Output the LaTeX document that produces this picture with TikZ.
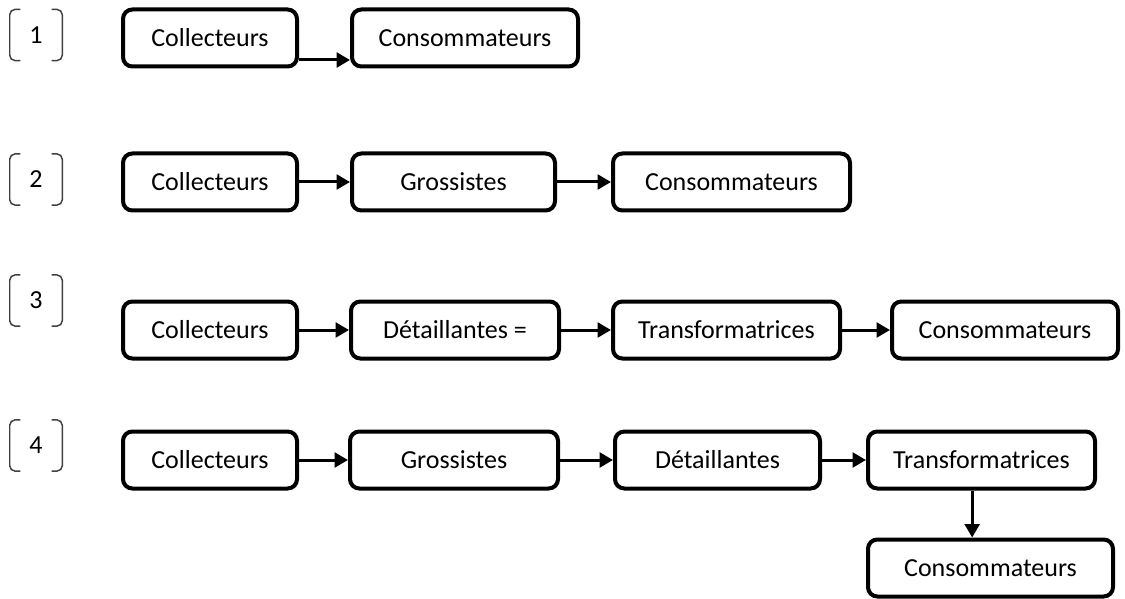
\documentclass[tikz,border=0pt]{standalone}
\usepackage{fontspec}
\setmainfont{Carlito}
\usetikzlibrary{arrows.meta}

\begin{document}
\begin{tikzpicture}[x=0.75pt, y=-0.75pt]
        \def\boxheight{42.75pt}
        \tikzstyle{box} = [draw, line width=3pt, rounded corners=7pt, minimum height=\boxheight, inner sep=0pt, font=\fontsize{19.5}{23}\selectfont]
        \tikzset{wd/.style={minimum width=#1*0.75pt}}
        \tikzstyle{arrow} = [line width=2.25pt, -{Triangle[length=10pt, width=11pt]}]
        \tikzstyle{rowlabel} = [minimum width=39pt, minimum height=38pt, inner sep=0pt, font=\fontsize{19.5}{23}\selectfont]
        \tikzstyle{bracket} = [draw=black!75, line width=1.1pt, rounded corners=4pt]
        \useasboundingbox (0,0) rectangle (1125,599);
        % Draw the four row numbers, each one between a pair of brackets
        \foreach \n/\y in {1/35, 2/179.5, 3/300.5, 4/445.5} {
            \node[rowlabel] (row\n) at (36, \y) {\n};
            \draw[bracket] ([xshift=8pt]row\n.north west) -- (row\n.north west) -- (row\n.south west) -- ([xshift=8pt]row\n.south west);
            \draw[bracket] ([xshift=-8pt]row\n.north east) -- (row\n.north east) -- (row\n.south east) -- ([xshift=-8pt]row\n.south east);
        }
        % Draw the first chain
        \node[box, wd=174] (col1) at (210, 38) {Collecteurs};
        \node[box, wd=226] (con1) at (465, 38) {Consommateurs};
        \draw[arrow] ([yshift=-16.5pt]col1.east) -- ([yshift=-16.5pt]col1.east -| con1.west);
        % Draw the second chain
        \node[box, wd=174] (col2) at (210, 182) {Collecteurs};
        \node[box, wd=203] (gro2) at (453.5, 182) {Grossistes};
        \node[box, wd=237] (con2) at (731.5, 182) {Consommateurs};
        \draw[arrow] (col2) -- (gro2);
        \draw[arrow] (gro2) -- (con2);
        % Draw the third chain
        \node[box, wd=174] (col3) at (210, 330) {Collecteurs};
        \node[box, wd=208] (det3) at (455, 330) {Détaillantes =};
        \node[box, wd=227] (tra3) at (726.5, 330) {Transformatrices};
        \node[box, wd=226] (con3) at (1005, 330) {Consommateurs};
        \draw[arrow] (col3) -- (det3);
        \draw[arrow] (det3) -- (tra3);
        \draw[arrow] (tra3) -- (con3);
        % Draw the fourth chain, which turns down at the end
        \node[box, wd=174] (col4) at (210, 460) {Collecteurs};
        \node[box, wd=208] (gro4) at (454, 460) {Grossistes};
        \node[box, wd=205] (det4) at (717.5, 460) {Détaillantes};
        \node[box, wd=227] (tra4) at (981.5, 460) {Transformatrices};
        \node[box, wd=245] (con4) at (990.5, 568) {Consommateurs};
        \draw[arrow] (col4) -- (gro4);
        \draw[arrow] (gro4) -- (det4);
        \draw[arrow] (det4) -- (tra4);
        \draw[arrow] ([xshift=-7pt]tra4.south) -- ([xshift=-7pt]tra4.south |- con4.north);

    \end{tikzpicture}
\end{document}
